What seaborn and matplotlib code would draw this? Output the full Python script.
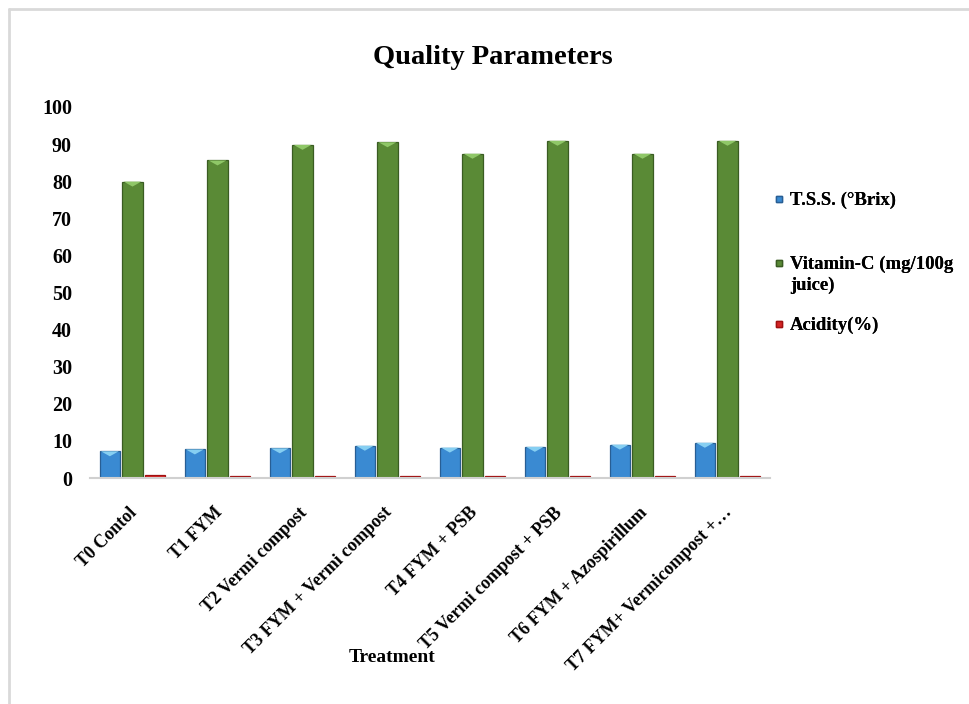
import matplotlib
matplotlib.use("Agg")
import matplotlib.pyplot as plt
import seaborn as sns
import pandas as pd
from matplotlib.lines import Line2D
from matplotlib.patches import Polygon
from matplotlib.transforms import ScaledTranslation

treatments = ["T0 Contol", "T1 FYM", "T2 Vermi compost", "T3 FYM + Vermi compost",
              "T4 FYM + PSB", "T5 Vermi compost + PSB", "T6 FYM + Azospirillum",
              "T7 FYM+ Vermicompost +\u2026"]
tss = [7.2, 7.7, 8.0, 8.7, 8.2, 8.4, 9.0, 9.5]
vitamin_c = [79.9, 85.6, 89.8, 90.5, 87.4, 90.9, 87.4, 90.9]
acidity = [0.75, 0.45, 0.42, 0.42, 0.42, 0.42, 0.42, 0.42]
series_names = ["T.S.S. (\u00b0Brix)", "Vitamin-C (mg/100g\njuice)", "Acidity(%)"]
yticks = [0, 10, 20, 30, 40, 50, 60, 70, 80, 90, 100]

sns.set_theme(style="white")
plt.rcParams['font.family'] = ['Liberation Serif', 'DejaVu Serif']
plt.rcParams['font.weight'] = 'bold'
plt.rcParams['text.color'] = 'black'
plt.rcParams['xtick.color'] = 'black'
plt.rcParams['ytick.color'] = 'black'

df = pd.DataFrame({
    "Treatment": treatments * 3,
    "value": tss + vitamin_c + acidity,
    "Series": [series_names[0]] * 8 + [series_names[1]] * 8 + [series_names[2]] * 8,
})

W, H = 969, 704
fig = plt.figure(figsize=(W / 100, H / 100), dpi=100)
ax = fig.add_axes([90 / W, (H - 478) / H, (770 - 90) / W, (478 - 107) / H])

colors = ["#3A8AD2", "#5A8A36", "#D42424"]
edges = ["#285E94", "#3A5C22", "#A01010"]
highlights = ["#86CFF2", "#8FC767", "#F07070"]
sns.barplot(data=df, x="Treatment", y="value", hue="Series", palette=colors,
            ax=ax, width=0.8, gap=0.1, legend=False, saturation=1)

ax.set_ylim(0, 100)
n = len(treatments)
depth = 5.0 / ((478 - 107) / 100.0)  # ~5 px bevel in data units
for i, patch in enumerate(list(ax.patches[:3 * n])):
    s = i // n
    patch.set_edgecolor(edges[s])
    patch.set_linewidth(0.9)
    x0, w, hgt = patch.get_x(), patch.get_width(), patch.get_height()
    if hgt > 2 * depth:
        tri = Polygon([(x0 + w * 0.06, hgt), (x0 + w * 0.94, hgt),
                       (x0 + w * 0.5, hgt - depth)], closed=True,
                      facecolor=highlights[s], edgecolor='none', zorder=3)
        ax.add_patch(tri)

ax.set_yticks(yticks)
ax.set_yticklabels([str(t) for t in yticks], fontsize=14.5, fontweight='bold')
ax.set_xlim(-0.5, n - 0.5)
ax.set_xticks(range(n))
ax.set_xticklabels(treatments, rotation=45, ha='right', rotation_mode='anchor',
                   fontsize=13, fontweight='bold')
ax.tick_params(axis='x', length=0, pad=8)
ax.tick_params(axis='y', length=0, pad=13)
off = ScaledTranslation(-4 / 100, -15 / 100, fig.dpi_scale_trans)
for lab in ax.get_xticklabels():
    lab.set_transform(lab.get_transform() + off)
ax.set_xlabel("")
ax.set_ylabel("")
for sp in ["top", "right", "left"]:
    ax.spines[sp].set_visible(False)
ax.spines["bottom"].set_color("#D0D0D0")
ax.spines["bottom"].set_linewidth(1.5)

fig.text(493 / W, 1 - 57 / H, "Quality Parameters", ha='center', va='center',
         fontsize=20.5, fontweight='bold')
fig.text(392 / W, 1 - 657 / H, "Treatment", ha='center', va='center',
         fontsize=14, fontweight='bold')

leg_y = [204, 268, 329]
prop = {'family': 'Liberation Serif', 'weight': 'bold', 'size': 13.5}
for k in range(3):
    h = Line2D([0], [0], marker='s', linestyle='none', markersize=5,
               markerfacecolor=colors[k], markeredgecolor=edges[k])
    leg = fig.legend([h], [series_names[k]], loc='upper left',
                     bbox_to_anchor=(770 / W, 1 - (leg_y[k] - 12) / H), frameon=False,
                     prop=prop, handletextpad=0.05, handlelength=1.0,
                     borderpad=0, borderaxespad=0)
    for t in leg.get_texts():
        t.set_linespacing(1.25)
    try:
        for col in leg._legend_handle_box.get_children():
            for item in col.get_children():
                item.align = 'top'
    except Exception:
        pass
    fig.add_artist(leg)

fig.add_artist(Line2D([9 / W, 9 / W], [0, 1 - 9 / H], transform=fig.transFigure,
                      color="#D9D9D9", linewidth=2))
fig.add_artist(Line2D([9 / W, 1], [1 - 9 / H, 1 - 9 / H], transform=fig.transFigure,
                      color="#D9D9D9", linewidth=2))

fig.savefig("out.png", dpi=100)
